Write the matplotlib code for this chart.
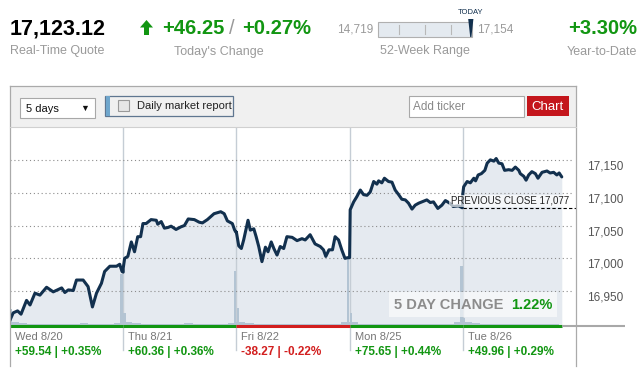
import numpy as np
import matplotlib.pyplot as plt
from matplotlib.patches import Rectangle, Polygon
from matplotlib.transforms import Affine2D, offset_copy

plt.rcParams['font.family'] = ['Liberation Sans', 'DejaVu Sans']

# ---- data -------------------------------------------------------------
days = ['Wed 8/20', 'Thu 8/21', 'Fri 8/22', 'Mon 8/25', 'Tue 8/26']
day_change = [59.54, 60.36, -38.27, 75.65, 49.96]
day_pct = [0.35, 0.36, -0.22, 0.44, 0.29]

# minutes after the open, index level
wed_min = [0, 11, 26, 38, 57, 69, 86, 103, 126, 149, 178, 189, 201, 218, 229, 252,
           269, 284, 298, 315, 326, 344, 367, 378, 386, 390]
wed_px = [16906, 16917, 16920, 16915, 16936, 16929, 16947, 16944, 16956, 16949, 16955,
          16948, 16952, 16951, 16967, 16967, 16957, 16926, 16947, 16962, 16980, 16988,
          16988, 16991, 16980, 16979]
thu_min = [0, 5, 16, 28, 39, 50, 60, 68, 79, 96, 114, 119, 131, 142, 154, 165, 182, 199,
           211, 224, 245, 262, 273, 290, 313, 336, 348, 359, 376, 384, 390]
thu_px = [16985, 17000, 17003, 17025, 17010, 17033, 17033, 17053, 17053, 17059, 17058,
          17052, 17056, 17046, 17047, 17049, 17044, 17048, 17050, 17060, 17059, 17055,
          17054, 17059, 17068, 17071, 17068, 17057, 17053, 17043, 17039]
fri_min = [0, 8, 17, 25, 40, 48, 60, 68, 77, 88, 100, 109, 120, 129, 140, 151, 163, 174,
           192, 209, 226, 237, 254, 271, 289, 300, 308, 319, 331, 340, 352, 363, 374, 383, 390]
fri_px = [17040, 17019, 17015, 17028, 17058, 17043, 17045, 17033, 17018, 16995, 17017,
          17010, 17025, 17015, 17005, 17018, 17015, 17033, 17032, 17027, 17030, 17028,
          17036, 17022, 17018, 17013, 17003, 17013, 17013, 17033, 17028, 17013, 17000,
          17001, 17001]
mon_min = [0, 2, 14, 25, 37, 48, 60, 71, 83, 94, 100, 111, 120, 134, 146, 157, 169, 180,
           192, 203, 215, 226, 238, 249, 266, 278, 289, 304, 318, 330, 345, 357, 375, 388]
mon_px = [17001, 17074, 17086, 17094, 17104, 17097, 17096, 17101, 17117, 17113, 17118,
          17115, 17122, 17117, 17116, 17104, 17097, 17090, 17089, 17084, 17075, 17081,
          17084, 17086, 17089, 17085, 17086, 17076, 17081, 17088, 17084, 17079, 17080, 17077]
tue_min = [0, 3, 15, 26, 38, 44, 53, 64, 76, 84, 95, 107, 115, 124, 135, 144, 158, 170,
           181, 193, 198, 210, 218, 227, 238, 250, 259, 273, 290, 301, 313, 324, 332, 341]
tue_px = [17098, 17109, 17117, 17115, 17122, 17118, 17127, 17129, 17134, 17145, 17150,
          17148, 17152, 17145, 17144, 17134, 17135, 17134, 17139, 17134, 17129, 17125,
          17119, 17127, 17132, 17129, 17122, 17131, 17133, 17130, 17131, 17127, 17130, 17124]

# volume (millions of shares): half-hour background bins plus open / close prints
vol_base = [
    [0.8, 0.6, 0.5, 0.5, 0.4, 0.4, 0.4, 0.4, 0.6, 0.4, 0.4, 0.5, 0.7],
    [0.8, 0.6, 0.5, 0.4, 0.4, 0.4, 0.4, 0.6, 0.4, 0.4, 0.4, 0.5, 0.7],
    [0.8, 0.6, 0.5, 0.4, 0.4, 0.4, 0.4, 0.4, 0.4, 0.4, 0.5, 0.5, 0.8],
    [0.8, 0.5, 0.5, 0.4, 0.4, 0.4, 0.4, 0.4, 0.4, 0.4, 0.4, 0.5, 0.8],
    [0.8, 0.6, 0.5, 0.4, 0.4, 0.4, 0.4, 0.4, 0.5, 0.4, 0.4],
]
vol_open = [3.4, 2.6, 3.6, 2.6, 1.6]
vol_close = [10.4, 11.0, 13.4, 12.0]

prev_close = 17077
quote = 17123.12
today_chg, today_pct = 46.25, 0.27
low52, high52 = 14719, 17154
ytd_pct = 3.30
five_day_pct = 1.22
yticks = [16950, 17000, 17050, 17100, 17150]

# ---- figure -----------------------------------------------------------
W, H = 641, 375
fig = plt.figure(figsize=(W / 100, H / 100), dpi=100)
fig.patch.set_facecolor('white')
px = Affine2D().scale(1 / W, -1 / H).translate(0, 1) + fig.transFigure

GREEN = '#129612'
RED = '#d21e1e'
GREY = '#9a9a9a'
NAVY = '#12304e'
VOLC = '#b3c4d3'


def box(x0, y0, x1, y1, **kw):
    fig.add_artist(Rectangle((x0, y0), x1 - x0, y1 - y0, transform=px, **kw))


def txt(x, y, s, **kw):
    kw.setdefault('va', 'center')
    fig.text(x, y, s, transform=px, **kw)


# header quote strip
txt(10, 29, f'{quote:,.2f}', fontsize=15.5, fontweight='bold', color='black')
txt(10, 51, 'Real-Time Quote', fontsize=9, color=GREY)
fig.add_artist(Polygon([(146.5, 20), (153, 27.5), (149, 27.5), (149, 35), (144, 35),
                        (144, 27.5), (140, 27.5)], closed=True, transform=px,
                       fc=GREEN, ec='none'))
txt(162, 29, f'{today_chg:+.2f}', fontsize=14.5, fontweight='bold', color=GREEN)
txt(232, 29, '/', fontsize=14.5, color=GREY, ha='center')
txt(242, 29, f'{today_pct:+.2f}%', fontsize=14.5, fontweight='bold', color=GREEN)
txt(219, 52, "Today's Change", fontsize=9, color=GREY, ha='center')

# 52-week range gauge
gx0, gx1 = 378, 472
box(gx0, 22, gx1, 37, fc='#e4eaf0', ec='#b0b0b0', lw=0.8)
for tx in [399, 425, 451]:
    fig.add_artist(plt.Line2D([tx, tx], [25, 34], transform=px, color='#b8b8b8', lw=0.8))
mx = gx0 + (quote - low52) / (high52 - low52) * (gx1 - gx0)
fig.add_artist(Polygon([(mx - 2.6, 19), (mx + 2.6, 19), (mx + 0.6, 37), (mx - 0.6, 37)],
                       closed=True, transform=px, fc=NAVY, ec='none'))
txt(mx, 13, 'TODAY', fontsize=5.5, color=NAVY, ha='center')
txt(373, 30, f'{low52:,}', fontsize=8.5, color=GREY, ha='right')
txt(477, 30, f'{high52:,}', fontsize=8.5, color=GREY)
txt(425, 51, '52-Week Range', fontsize=9, color=GREY, ha='center')

txt(637, 29, f'{ytd_pct:+.2f}%', fontsize=14.5, fontweight='bold', color=GREEN, ha='right')
txt(637, 52, 'Year-to-Date', fontsize=9, color=GREY, ha='right')

# widget frame and toolbar
box(9.5, 85.5, 576, 126.5, fc='#f0f0f0', ec='none')
for xs, ys in [([9.5, 576], [85.5, 85.5]), ([9.5, 9.5], [85.5, 366]),
               ([576, 576], [85.5, 366])]:
    fig.add_artist(plt.Line2D(xs, ys, transform=px, color='#aaaaaa', lw=0.9))
fig.add_artist(plt.Line2D([9.5, 576], [126.5, 126.5], transform=px, color='#d0d0d0', lw=0.8))

box(20, 98, 95, 118, fc='white', ec='#a8a8a8', lw=0.8)
txt(26, 108.5, '5 days', fontsize=8, color='#111')
txt(85, 108, '▼', fontsize=6.5, color='#111', ha='center')

box(105, 95.5, 233, 116, fc='#f0f0f0', ec='#5f7690', lw=0.9)
box(105.5, 96, 109.5, 115.5, fc='#6fa6cc', ec='none')
box(118, 100, 129, 111, fc='#e6e6e6', ec='#999999', lw=0.8)
txt(137, 106, 'Daily market report', fontsize=8, color='#222')

box(409, 95.5, 524, 117, fc='white', ec='#a8a8a8', lw=0.8)
txt(413, 106.5, 'Add ticker', fontsize=8.5, color='#888')
box(527, 96, 569, 116, fc='#c4161c', ec='none')
txt(548, 106.5, 'Chart', fontsize=9.5, color='white', ha='center')

# ---- price chart ------------------------------------------------------
ymin, ymax = 16897, 17200
ax = fig.add_axes([10 / W, 1 - 326 / H, 566 / W, 199 / H])
ax.set_facecolor('white')
for s in ax.spines.values():
    s.set_visible(False)
ax.set_xticks([])
ax.set_yticks([])

mins = [wed_min, thu_min, fri_min, mon_min, tue_min]
prices = [wed_px, thu_px, fri_px, mon_px, tue_px]
x = np.concatenate([i + np.array(m) / 390 for i, m in enumerate(mins)])
p = np.concatenate([np.array(v, float) for v in prices])
x_end = x[-1]

ax.fill_between(x, p, ymin, color='#e5eaf0', lw=0, zorder=1)

for d in range(1, 5):
    ax.axvline(d, ymin=-0.12, ymax=1, color='#c5cdd5', lw=1, clip_on=False, zorder=1.2)

# volume drawn on the price axis, 40M shares = full height
vscale = (ymax - ymin) / 40
for i, vb in enumerate(vol_base):
    vx = i + np.arange(len(vb)) * 30 / 390
    ax.bar(vx, np.array(vb) * vscale, bottom=ymin, width=30 / 390, align='edge',
           color=VOLC, lw=0, zorder=1.5)
    ax.bar(i + 0.5 / 390, vol_open[i] * vscale, bottom=ymin, width=8 / 390, align='edge',
           color=VOLC, lw=0, zorder=1.5)
    if i < len(vol_close):
        ax.bar(i + 1 - 0.5 / 390, vol_close[i] * vscale, bottom=ymin, width=-9 / 390,
               align='edge', color=VOLC, lw=0, zorder=1.5)
ax.set_xlim(0, 5)
ax.set_ylim(ymin, ymax)

ax.hlines(yticks, 0, 4.97, colors='#8c8c8c', linestyles=(0, (1, 2.5)), lw=0.8, zorder=2)

ax.plot(x, p, color=NAVY, lw=2.2, solid_joinstyle='round', solid_capstyle='round', zorder=4)

# day colour strip and baseline
for i, c in enumerate(day_change):
    end = min(i + 1, x_end)
    ax.hlines(ymin, i, end, colors=GREEN if c >= 0 else RED, lw=2.2,
              clip_on=False, zorder=5)
ax.hlines(ymin, x_end, 5.43, colors='#a8a8a8', lw=1.5, clip_on=False, zorder=5)

# previous close
ax.hlines(prev_close, 4, 5, colors='black', linestyles=(0, (3, 2)), lw=0.8, zorder=5)
ax.text(4.935, prev_close, f'PREVIOUS CLOSE {prev_close:,}', ha='right', va='bottom',
        fontsize=7, color='#222',
        transform=offset_copy(ax.transData, fig=fig, y=2, units='dots'),
        bbox=dict(fc='white', ec='none', alpha=0.65, pad=0.8), zorder=6)

# y labels on the right
ylab_tr = offset_copy(ax.get_yaxis_transform(), fig=fig, x=11, y=-6.5, units='dots')
for v in yticks:
    ax.text(1, v, f'{v:,}', transform=ylab_tr, va='center', ha='left',
            fontsize=8.5, color='#555', clip_on=False)

# day labels below
lab_tr = offset_copy(ax.get_xaxis_transform(), fig=fig, x=5, units='dots')
for i, name in enumerate(days):
    ax.text(i, -0.055, name, transform=lab_tr, va='center', fontsize=8, color='#777')
    c, pc = day_change[i], day_pct[i]
    ax.text(i, -0.13, f'{c:+.2f} | {pc:+.2f}%', transform=lab_tr, va='center',
            fontsize=8.5, fontweight='bold', color=GREEN if c >= 0 else RED)

# 5 day change badge
box(389, 292, 557, 317, fc='white', ec='none', alpha=0.6, zorder=7)
txt(394, 305, '5 DAY CHANGE', fontsize=10.5, fontweight='bold', color='#8c8c8c', zorder=8)
txt(552, 305, f'{five_day_pct:.2f}%', fontsize=10.5, fontweight='bold', color=GREEN,
    ha='right', zorder=8)

fig.savefig('out.png', dpi=100)
